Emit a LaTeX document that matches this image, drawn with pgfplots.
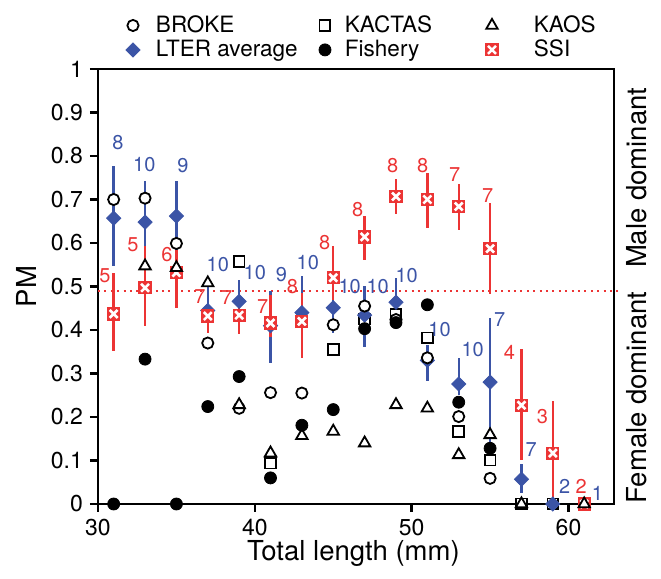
\documentclass[border=0pt]{standalone}
\usepackage{pgfplots}
\pgfplotsset{compat=1.18}
\usepackage{pgfplotstable}
\usepackage{fontspec}
\setmainfont{TeX Gyre Heros}
\definecolor{lterblue}{RGB}{59,84,166}
\definecolor{ssired}{RGB}{236,52,52}

\pgfdeclareplotmark{sqx}{%
  \pgfpathrectangle{\pgfqpoint{-\pgfplotmarksize}{-\pgfplotmarksize}}{\pgfqpoint{2\pgfplotmarksize}{2\pgfplotmarksize}}%
  \pgfusepathqfill
  \pgfsetstrokecolor{white}%
  \pgfsetlinewidth{1.3pt}%
  \pgfpathmoveto{\pgfqpoint{-0.6\pgfplotmarksize}{-0.6\pgfplotmarksize}}%
  \pgfpathlineto{\pgfqpoint{0.6\pgfplotmarksize}{0.6\pgfplotmarksize}}%
  \pgfpathmoveto{\pgfqpoint{-0.6\pgfplotmarksize}{0.6\pgfplotmarksize}}%
  \pgfpathlineto{\pgfqpoint{0.6\pgfplotmarksize}{-0.6\pgfplotmarksize}}%
  \pgfusepathqstroke
}

% LTER average: mean, lower, upper
\pgfplotstableread{
x y lo hi
31 0.657 0.547 0.777
33 0.648 0.550 0.743
35 0.662 0.560 0.743
37 0.445 0.400 0.500
39 0.466 0.400 0.516
41 0.410 0.325 0.489
43 0.440 0.340 0.524
45 0.451 0.393 0.500
47 0.434 0.362 0.500
49 0.464 0.440 0.520
51 0.330 0.282 0.365
53 0.276 0.250 0.336
55 0.280 0.130 0.428
57 0.057 0.025 0.092
59 0.000 0.000 0.000
}\lter

% SSI: mean, lower, upper
\pgfplotstableread{
x y lo hi
31 0.437 0.351 0.532
33 0.497 0.409 0.593
35 0.532 0.451 0.585
37 0.432 0.394 0.454
39 0.434 0.390 0.450
41 0.416 0.385 0.480
43 0.420 0.336 0.485
45 0.520 0.470 0.593
47 0.614 0.562 0.662
49 0.707 0.666 0.748
51 0.700 0.635 0.762
53 0.684 0.631 0.735
55 0.587 0.482 0.693
57 0.227 0.101 0.356
59 0.117 0.000 0.236
61 0.000 0.000 0.000
}\ssi

\pgfplotstableread{
x y
31 0.700
33 0.703
35 0.599
37 0.370
39 0.220
41 0.256
43 0.255
45 0.412
47 0.455
49 0.424
51 0.336
53 0.201
55 0.059
}\broke

\pgfplotstableread{
x y
39 0.558
41 0.094
45 0.355
47 0.425
49 0.435
51 0.382
53 0.167
55 0.101
57 0.000
59 0.000
61 0.000
}\kactas

\pgfplotstableread{
x y
33 0.547
35 0.543
37 0.508
39 0.228
41 0.117
43 0.157
45 0.167
47 0.140
49 0.228
51 0.220
53 0.113
55 0.159
57 0.000
61 0.000
}\kaos

\pgfplotstableread{
x y
31 0.000
33 0.333
35 0.000
37 0.224
39 0.293
41 0.060
43 0.181
45 0.217
47 0.403
49 0.417
51 0.458
53 0.234
55 0.128
}\fishery

% sample sizes (label positions)
\pgfplotstableread{
x y t
31.27 0.832 8
32.95 0.781 10
35.41 0.777 9
37.64 0.551 10
40.00 0.532 10
41.70 0.528 9
43.38 0.555 10
46.05 0.501 10
47.83 0.501 10
49.68 0.525 10
51.78 0.401 10
53.89 0.355 10
55.61 0.424 7
57.62 0.124 7
59.75 0.040 2
61.85 0.025 1
}\lterlab

\pgfplotstableread{
x y t
30.45 0.524 5
32.23 0.597 5
34.39 0.574 6
36.50 0.477 7
38.20 0.475 7
40.50 0.455 7
42.40 0.500 8
44.46 0.601 8
46.56 0.677 8
48.79 0.777 8
50.70 0.777 8
52.74 0.758 7
54.84 0.708 7
56.24 0.348 4
58.34 0.201 3
60.81 0.040 2
}\ssilab

\pgfplotstableread{
x y
30 0.49
63.3 0.49
}\half

\begin{document}
\begin{tikzpicture}
\begin{axis}[
  scale only axis, width=258pt, height=217.5pt,
  xmin=30, xmax=62.9, ymin=0, ymax=1,
  clip=false,
  xtick={30,40,50,60},
  ytick={0,0.1,0.2,0.3,0.4,0.5,0.6,0.7,0.8,0.9,1},
  tick pos=left, tick align=outside,
  major tick length=4pt,
  every tick/.style={black, line width=1.2pt},
  axis line style={line width=1.3pt},
  /pgf/number format/assume math mode=true,
  tick label style={font=\fontsize{11.5}{13}\selectfont},
  xlabel={Total length (mm)}, ylabel={PM},
  label style={font=\fontsize{13.75}{16}\selectfont},
  xlabel style={at={(rel axis cs:0.495,0)}, anchor=center, yshift=-24.5pt},
  ylabel style={at={([xshift=-36pt]rel axis cs:0,0.5)}, anchor=center},
  legend columns=3,
  legend cell align=left,
  legend image code/.code={\path[draw=none, fill=none] (-5pt,0pt) rectangle (10pt,0.1pt); \draw[mark repeat=1,#1] plot coordinates {(0pt,0pt)};},
  legend style={draw=none, fill=none, inner sep=0pt, outer sep=0pt,
    nodes={inner sep=0pt},
    column sep=0pt, row sep=2.3pt,
    /tikz/every even column/.style={column sep=0pt},
    /tikz/every odd column/.style={column sep=0pt},
    at={(rel axis cs:0,1)}, anchor=south west,
    xshift=12.5pt, yshift=4.6pt,
    font=\fontsize{11.25}{13.3}\selectfont},
  broke/.style={only marks, mark=*, mark size=2.8pt, mark options={draw=black, fill=white, line width=0.9pt}},
  kactas/.style={only marks, mark=square*, mark size=2.7pt, mark options={draw=black, fill=white, line width=0.9pt}},
  kaos/.style={only marks, mark=triangle*, mark size=3.3pt, mark options={draw=black, fill=white, line width=0.9pt}},
  fish/.style={only marks, mark=*, mark size=3pt, mark options={draw=black, fill=black}},
  lterm/.style={only marks, mark=square*, mark size=2.5pt, mark options={rotate=45, draw=lterblue, fill=lterblue}},
  ssim/.style={only marks, mark=sqx, mark size=3.3pt, mark options={fill=ssired}},
]
% legend
\addlegendimage{broke}\addlegendentry{\makebox[81pt][l]{\hspace{1.5pt}BROKE}}
\addlegendimage{kactas}\addlegendentry{\makebox[68.5pt][l]{KACTAS}}
\addlegendimage{kaos}\addlegendentry{\makebox[50pt][l]{\hspace{11pt}KAOS}}
\addlegendimage{lterm}\addlegendentry{\makebox[81pt][l]{\hspace{1.5pt}LTER average}}
\addlegendimage{fish}\addlegendentry{\makebox[68.5pt][l]{Fishery}}
\addlegendimage{ssim}\addlegendentry{\makebox[50pt][l]{\hspace{11pt}SSI}}

% 0.5 reference line
\addplot[forget plot, ssired, line width=1pt, dash pattern=on 1pt off 2.2pt] table {\half};

\addplot[forget plot, kactas] table {\kactas};

\addplot[forget plot, lterm,
  error bars/.cd, y dir=both, y explicit, error mark=none,
  error bar style={line width=1.2pt, lterblue}]
  table[x=x, y=y, y error plus expr=\thisrow{hi}-\thisrow{y}, y error minus expr=\thisrow{y}-\thisrow{lo}] {\lter};

\addplot[forget plot, ssim,
  error bars/.cd, y dir=both, y explicit, error mark=none,
  error bar style={line width=1.2pt, ssired}]
  table[x=x, y=y, y error plus expr=\thisrow{hi}-\thisrow{y}, y error minus expr=\thisrow{y}-\thisrow{lo}] {\ssi};

\addplot[forget plot, broke] table {\broke};
\addplot[forget plot, kaos] table {\kaos};
\addplot[forget plot, fish] table {\fishery};

% sample size labels
\addplot[forget plot, draw=none, mark=none, nodes near coords, point meta=explicit symbolic,
  every node near coord/.append style={anchor=center, inner sep=0pt, font=\fontsize{10}{12}\selectfont, text=lterblue}]
  table[x=x, y=y, meta=t] {\lterlab};
\addplot[forget plot, draw=none, mark=none, nodes near coords, point meta=explicit symbolic,
  every node near coord/.append style={anchor=center, inner sep=0pt, font=\fontsize{10}{12}\selectfont, text=ssired}]
  table[x=x, y=y, meta=t] {\ssilab};

\node[rotate=90, anchor=center, font=\fontsize{13.75}{16}\selectfont] at ([xshift=11.5pt]rel axis cs:1,0.75) {Male dominant};
\node[rotate=90, anchor=center, font=\fontsize{13.75}{16}\selectfont] at ([xshift=11.5pt]rel axis cs:1,0.245) {Female dominant};

\coordinate (bl) at (rel axis cs:0,0);
\coordinate (tr) at (rel axis cs:1,1);
\end{axis}
\pgfresetboundingbox
\path ([shift={(-49pt,-37.5pt)}]bl) rectangle ([shift={(23.5pt,34.5pt)}]tr);
\end{tikzpicture}
\end{document}
